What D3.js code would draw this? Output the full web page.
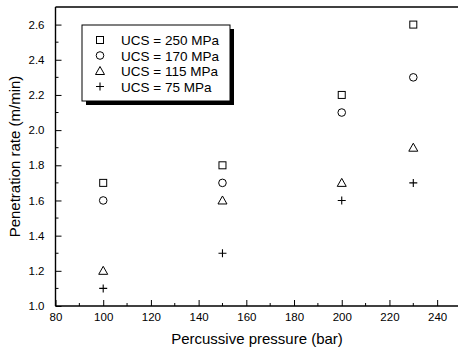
<!DOCTYPE html>
<html><head><meta charset="utf-8">
<script src="https://cdn.jsdelivr.net/npm/d3@7"></script>
<style>body{margin:0;background:#fff}svg{display:block}text{font-family:"Liberation Sans",Arial,sans-serif;fill:#000}</style>
</head><body><svg id="c" width="458" height="349"></svg>
<script>
const pressures = [100, 150, 200, 230];
const seriesNames = ["UCS = 250 MPa", "UCS = 170 MPa", "UCS = 115 MPa", "UCS = 75 MPa"];
const seriesSymbols = ["square", "circle", "triangle", "plus"];
const ucs250 = [1.7, 1.8, 2.2, 2.6];
const ucs170 = [1.6, 1.7, 2.1, 2.3];
const ucs115 = [1.2, 1.6, 1.7, 1.9];
const ucs75 = [1.1, 1.3, 1.6, 1.7];
const xTicks = [80, 100, 120, 140, 160, 180, 200, 220, 240];
const yTicks = [1.0, 1.2, 1.4, 1.6, 1.8, 2.0, 2.2, 2.4, 2.6];
const seriesValues = [ucs250, ucs170, ucs115, ucs75];

const svg = d3.select("#c");
const L = 55.5, R = 461, T = 7, B = 306;
const x = d3.scaleLinear().domain([80, 250]).range([L, R]);
const y = d3.scaleLinear().domain([1.0, 2.7]).range([B, T]);
const FONT = "Liberation Sans, Arial, sans-serif";

const g = svg.append("g");
g.append("line").attr("x1", L).attr("x2", L).attr("y1", T).attr("y2", B).attr("stroke", "#000").attr("stroke-width", 1.4);
g.append("line").attr("x1", L).attr("x2", R).attr("y1", B).attr("y2", B).attr("stroke", "#000").attr("stroke-width", 1.4);
g.append("line").attr("x1", L).attr("x2", R).attr("y1", T).attr("y2", T).attr("stroke", "#000").attr("stroke-width", 1.4);

const xAxis = d3.axisBottom(x).tickValues(xTicks).tickSize(-6).tickPadding(7).tickFormat(d3.format("d"));
const xg = g.append("g").attr("transform", `translate(0,${B})`).call(xAxis);
xg.select(".domain").remove();
xg.selectAll("line").attr("stroke", "#000");
xg.selectAll("text").attr("font-size", 11.5).attr("font-family", FONT);
const xMinor = d3.range(90, 250, 20);
g.selectAll(".xm").data(xMinor).enter().append("line")
  .attr("x1", d => x(d)).attr("x2", d => x(d)).attr("y1", B).attr("y2", B - 3).attr("stroke", "#000");

const yAxis = d3.axisLeft(y).tickValues(yTicks).tickSize(-6).tickPadding(11).tickFormat(d3.format(".1f"));
const yg = g.append("g").attr("transform", `translate(${L},0)`).call(yAxis);
yg.select(".domain").remove();
yg.selectAll("line").attr("stroke", "#000");
yg.selectAll("text").attr("font-size", 11.5).attr("font-family", FONT);
const yMinor = d3.range(1.1, 2.7, 0.2);
g.selectAll(".ym").data(yMinor).enter().append("line")
  .attr("x1", L).attr("x2", L + 3).attr("y1", d => y(d)).attr("y2", d => y(d)).attr("stroke", "#000");

svg.append("text").attr("x", 257).attr("y", 344).attr("text-anchor", "middle").attr("font-size", 15).text("Percussive pressure (bar)");
svg.append("text").attr("transform", `translate(20,${(T + B) / 2}) rotate(-90)`).attr("text-anchor", "middle").attr("font-size", 15).text("Penetration rate (m/min)");

function drawSym(sel, type) {
  if (type === "square") sel.append("rect").attr("x", -3.5).attr("y", -3.5).attr("width", 7).attr("height", 7).attr("fill", "none").attr("stroke", "#000").attr("stroke-width", 1);
  else if (type === "circle") sel.append("circle").attr("r", 3.8).attr("fill", "none").attr("stroke", "#000").attr("stroke-width", 1);
  else if (type === "triangle") sel.append("path").attr("d", "M0,-4.5L4.5,3.5L-4.5,3.5Z").attr("fill", "none").attr("stroke", "#000").attr("stroke-width", 1);
  else sel.append("path").attr("d", "M-4,0H4M0,-4V4").attr("fill", "none").attr("stroke", "#000").attr("stroke-width", 1.1);
}

seriesValues.forEach((vals, i) => {
  vals.forEach((v, j) => {
    const p = svg.append("g").attr("transform", `translate(${x(pressures[j])},${y(v)})`);
    drawSym(p, seriesSymbols[i]);
  });
});

const lx = 82, ly = 25, lw = 148, lh = 76;
svg.append("rect").attr("x", lx + 4).attr("y", ly + 4).attr("width", lw).attr("height", lh).attr("fill", "#000");
svg.append("rect").attr("x", lx).attr("y", ly).attr("width", lw).attr("height", lh).attr("fill", "#fff").attr("stroke", "#000").attr("stroke-width", 1);
seriesNames.forEach((n, i) => {
  const cy = ly + 15 + i * 15.5;
  const s = svg.append("g").attr("transform", `translate(${lx + 18},${cy})`);
  drawSym(s, seriesSymbols[i]);
  svg.append("text").attr("x", lx + 39).attr("y", cy + 5).attr("font-size", 13.5).text(n);
});
</script></body></html>
